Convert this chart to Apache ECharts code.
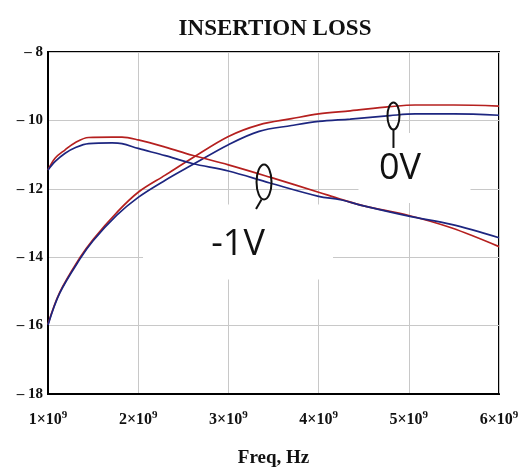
<!DOCTYPE html>
<html>
<head>
<meta charset="utf-8">
<script src="https://cdn.jsdelivr.net/npm/echarts@6/dist/echarts.min.js"></script>
<style>
  html, body { margin: 0; padding: 0; background: #fff; }
  #chart { width: 525px; height: 471px; }
</style>
</head>
<body>
<div id="chart"></div>
<script>
// Frequency sweep points (Hz) and insertion loss (dB) for each trace
const freqRise0V = [1.0e9, 1.13e9, 1.355e9, 1.5e9, 1.76e9, 2.0e9, 2.3e9, 2.6e9, 3.0e9, 3.34e9, 3.7e9, 4.0e9, 4.35e9, 4.79e9, 5.07e9, 5.5e9, 6.0e9];
const loss0V_red  = [-15.96, -15.03, -14.01, -13.48, -12.70, -12.10, -11.60, -11.10, -10.47, -10.13, -9.95, -9.81, -9.72, -9.60, -9.55, -9.55, -9.58];
const loss0V_blue = [-15.98, -15.05, -14.05, -13.52, -12.78, -12.25, -11.75, -11.30, -10.71, -10.32, -10.15, -10.03, -9.96, -9.86, -9.81, -9.81, -9.85];

const freqFallM1V = [1.0e9, 1.08e9, 1.19e9, 1.3e9, 1.45e9, 1.71e9, 1.82e9, 2.0e9, 2.3e9, 2.6e9, 3.0e9, 3.46e9, 4.0e9, 4.24e9, 4.5e9, 5.0e9, 5.47e9, 6.0e9];
const lossM1V_red  = [-11.45, -11.10, -10.86, -10.65, -10.50, -10.49, -10.49, -10.57, -10.78, -11.02, -11.30, -11.66, -12.10, -12.30, -12.50, -12.78, -13.14, -13.69];
const lossM1V_blue = [-11.45, -11.20, -10.96, -10.80, -10.68, -10.66, -10.68, -10.82, -11.03, -11.26, -11.48, -11.83, -12.22, -12.32, -12.50, -12.80, -13.04, -13.43];

// Axis ticks
const xTicks = [1e9, 2e9, 3e9, 4e9, 5e9, 6e9];
const yTicks = [-18, -16, -14, -12, -10, -8];

// Bias callouts: oval position on the traces and the bias label
const calloutFreq  = [4.83e9, 3.395e9];
const calloutLevel = [-9.87, -11.80];
const calloutText  = ['0V', '-1V'];

// Pixel geometry of each callout, relative to the oval centre
const calloutLayout = [
  { rx: 6, ry: 13.5, stem: [0, 13.5, 0, 32], text: [6.5, 52.5], box: [-35, 17, 112, 70] },
  { rx: 7.5, ry: 17.5, stem: [-2.5, 17.5, -8, 27], text: [-26, 62.5], box: [-121, 22.5, 190, 75] }
];

const zip = (xs, ys) => xs.map((x, i) => [x, ys[i]]);

const RED = '#b5201f';
const BLUE = '#1d2680';
const SERIF = '"Liberation Serif", "DejaVu Serif", serif';

const chart = echarts.init(document.getElementById('chart'));

function lineSeries(name, xs, ys, color) {
  return {
    name, type: 'line', data: zip(xs, ys), smooth: 0.35,
    showSymbol: false, symbol: 'none', z: 3,
    lineStyle: { color, width: 1.7 }
  };
}

chart.setOption({
  animation: false,
  backgroundColor: '#fff',
  title: {
    text: 'INSERTION LOSS', left: 270, top: 13, textAlign: 'center',
    textStyle: { fontFamily: SERIF, fontWeight: 'bold', fontSize: 23, color: '#111' }
  },
  grid: {
    left: 48, right: 26, top: 52, bottom: 77,
    outerBoundsMode: 'none', containLabel: false,
    show: true, borderColor: '#000', borderWidth: 2
  },
  xAxis: {
    type: 'value', min: xTicks[0], max: xTicks[xTicks.length - 1], interval: 1e9,
    name: 'Freq, Hz', nameLocation: 'middle', nameGap: 55,
    nameTextStyle: { fontFamily: SERIF, fontWeight: 'bold', fontSize: 19, color: '#111' },
    axisLine: { lineStyle: { color: '#000', width: 2 } },
    axisTick: { show: false },
    splitLine: { lineStyle: { color: '#c8c8c8', width: 1 } },
    axisLabel: {
      margin: 16,
      formatter: v => '{b|' + Math.round(v / 1e9) + '×10}{s|9}',
      rich: {
        b: { fontFamily: SERIF, fontWeight: 'bold', fontSize: 16, color: '#111' },
        s: { fontFamily: SERIF, fontWeight: 'bold', fontSize: 11, color: '#111', padding: [0, 0, 9, 0] }
      }
    }
  },
  yAxis: {
    type: 'value', min: yTicks[0], max: yTicks[yTicks.length - 1], interval: 2,
    axisLine: { show: true, lineStyle: { color: '#000', width: 2 } },
    axisTick: { show: false },
    splitLine: { lineStyle: { color: '#c8c8c8', width: 1 } },
    axisLabel: {
      margin: 5, padding: [6, 0, 0, 0],
      formatter: v => '– ' + Math.abs(v),
      fontFamily: SERIF, fontWeight: 'bold', fontSize: 15, color: '#111'
    }
  },
  series: [
    {
      type: 'custom', name: 'callout boxes', z: 1, clip: false, silent: true,
      data: calloutFreq.map((f, i) => [f, calloutLevel[i], i]),
      encode: { x: 0, y: 1 },
      renderItem: (params, api) => {
        const i = api.value(2);
        const p = api.coord([api.value(0), api.value(1)]);
        const L = calloutLayout[i];
        return {
          type: 'rect',
          shape: { x: p[0] + L.box[0], y: p[1] + L.box[1], width: L.box[2], height: L.box[3] },
          style: { fill: '#fff' }
        };
      }
    },
    lineSeries('0V (red)', freqRise0V, loss0V_red, RED),
    lineSeries('0V (blue)', freqRise0V, loss0V_blue, BLUE),
    lineSeries('-1V (red)', freqFallM1V, lossM1V_red, RED),
    lineSeries('-1V (blue)', freqFallM1V, lossM1V_blue, BLUE),
    {
      type: 'custom', name: 'callouts', z: 5, clip: false, silent: true,
      data: calloutFreq.map((f, i) => [f, calloutLevel[i], i]),
      encode: { x: 0, y: 1 },
      renderItem: (params, api) => {
        const i = api.value(2);
        const p = api.coord([api.value(0), api.value(1)]);
        const L = calloutLayout[i];
        return {
          type: 'group',
          children: [
            {
              type: 'ellipse',
              shape: { cx: p[0], cy: p[1], rx: L.rx, ry: L.ry },
              style: { fill: null, stroke: '#111', lineWidth: 2 }
            },
            {
              type: 'line',
              shape: { x1: p[0] + L.stem[0], y1: p[1] + L.stem[1], x2: p[0] + L.stem[2], y2: p[1] + L.stem[3] },
              style: { stroke: '#111', lineWidth: 2 }
            },
            {
              type: 'text',
              x: p[0] + L.text[0], y: p[1] + L.text[1],
              style: {
                text: calloutText[i], fill: '#111',
                font: '36px "Open Sans", "Noto Sans", sans-serif',
                align: 'center', verticalAlign: 'middle'
              }
            }
          ]
        };
      }
    }
  ]
});
</script>
</body>
</html>
